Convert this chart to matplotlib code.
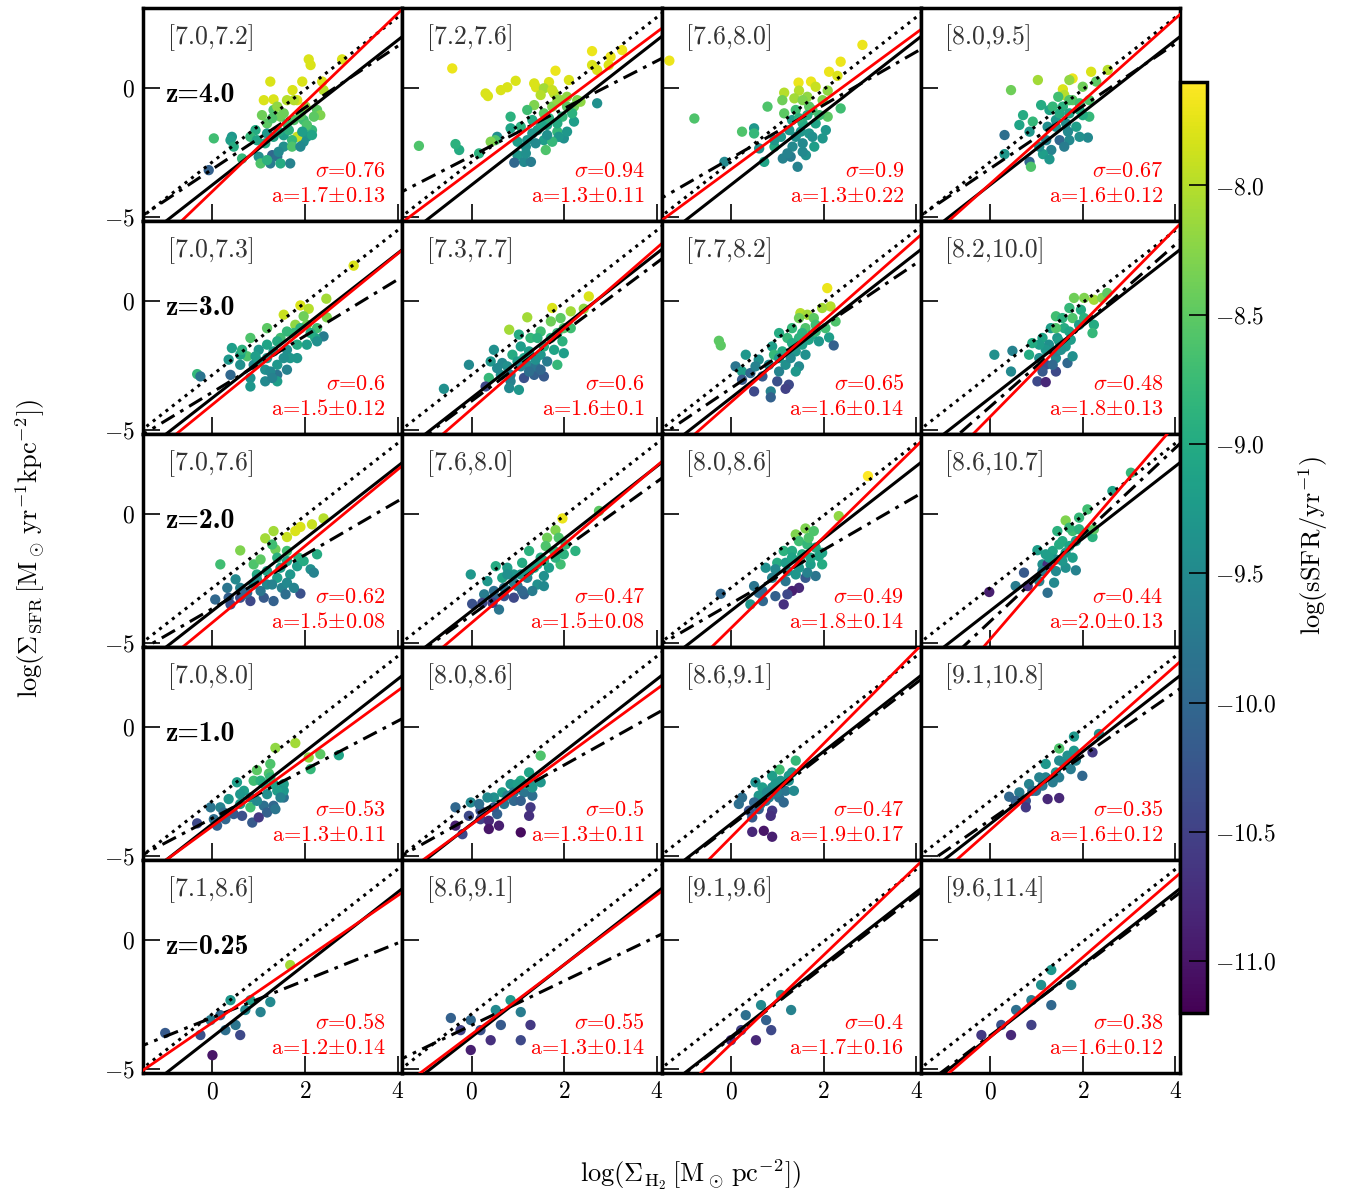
import numpy as np
import matplotlib
matplotlib.use('Agg')
import matplotlib.pyplot as plt
from matplotlib import cm, colors

plt.rcParams.update({
    'font.family': 'serif', 'font.serif': ['cmr10'], 'mathtext.fontset': 'cm',
    'axes.formatter.use_mathtext': True, 'axes.unicode_minus': True,
})

# ---------------- data ----------------
redshifts = ['4.0', '3.0', '2.0', '1.0', '0.25']
bins = [['[7.0,7.2]', '[7.2,7.6]', '[7.6,8.0]', '[8.0,9.5]'],
        ['[7.0,7.3]', '[7.3,7.7]', '[7.7,8.2]', '[8.2,10.0]'],
        ['[7.0,7.6]', '[7.6,8.0]', '[8.0,8.6]', '[8.6,10.7]'],
        ['[7.0,8.0]', '[8.0,8.6]', '[8.6,9.1]', '[9.1,10.8]'],
        ['[7.1,8.6]', '[8.6,9.1]', '[9.1,9.6]', '[9.6,11.4]']]
sigmas = [['0.76', '0.94', '0.9', '0.67'],
          ['0.6', '0.6', '0.65', '0.48'],
          ['0.62', '0.47', '0.49', '0.44'],
          ['0.53', '0.5', '0.47', '0.35'],
          ['0.58', '0.55', '0.4', '0.38']]
slopes_txt = [['1.7', '1.3', '1.3', '1.6'],
              ['1.5', '1.6', '1.6', '1.8'],
              ['1.5', '1.5', '1.8', '2.0'],
              ['1.3', '1.3', '1.9', '1.6'],
              ['1.2', '1.3', '1.7', '1.6']]
slope_err_txt = [['0.13', '0.11', '0.22', '0.12'],
                 ['0.12', '0.1', '0.14', '0.13'],
                 ['0.08', '0.08', '0.14', '0.13'],
                 ['0.11', '0.11', '0.17', '0.12'],
                 ['0.14', '0.14', '0.16', '0.12']]
# red fit lines (slope, intercept)
red_fit = [[(1.72, -4.0), (1.34, -3.19), (1.32, -3.15), (1.6, -3.71)],
           [(1.46, -4.01), (1.56, -4.18), (1.58, -3.92), (1.82, -4.48)],
           [(1.48, -4.2), (1.52, -4.21), (1.76, -4.42), (2.08, -4.85)],
           [(1.31, -3.84), (1.31, -3.77), (1.81, -4.27), (1.59, -3.99)],
           [(1.23, -3.2), (1.35, -3.65), (1.72, -4.03), (1.55, -3.77)]]
# dash-dot lines (slope, intercept)
dd_fit = [[(1.19, -3.14), (0.92, -2.63), (1.03, -2.72), (1.21, -3.12)],
          [(1.09, -3.53), (1.34, -3.87), (1.21, -3.38), (1.57, -4.09)],
          [(1.04, -3.66), (1.29, -3.91), (1.04, -3.47), (1.68, -4.16)],
          [(0.94, -3.53), (1.0, -3.47), (1.38, -3.82), (1.24, -3.6)],
          [(0.72, -3.0), (0.86, -3.3), (1.38, -3.8), (1.35, -3.7)]]
ks_solid = (1.4, -3.75)
ks_dotted = (1.4, -2.86)

# scatter points per panel: x=log Sigma_H2, y=log Sigma_SFR, c=log sSFR
x00 = [2.08,2.12,2.80,1.25,1.94,1.73,2.37,2.40,1.11,1.32,1.61,1.83,2.01,2.26,2.33,1.32,1.47,1.18,1.61,1.76,1.97,2.15,2.04,1.97,1.83,1.72,1.54,1.54,1.72,1.32,1.18,0.93,0.82,0.42,0.39,0.03,0.46,0.64,1.00,1.04,1.29,1.40,1.25,1.47,1.68,1.18,-0.08,1.14,0.96,
       1.40,1.54,1.29,1.90,2.04,1.65,1.43,1.94,2.15,1.76,1.07,1.90,1.43,2.19]
y00 = [1.11,0.89,1.11,0.25,0.25,-0.08,0.25,-0.08,-0.47,-0.44,-0.47,-0.47,-0.72,-0.85,-1.05,-0.85,-1.11,-1.37,-1.37,-1.24,-1.24,-1.63,-1.89,-2.08,-1.89,-2.02,-1.83,-2.27,-2.27,-1.89,-1.76,-1.63,-1.89,-1.89,-2.02,-1.95,-2.27,-2.73,-2.66,-2.92,-2.60,-2.66,-2.92,-2.92,-2.92,-2.79,-3.18,-2.14,-2.02,
       -0.72,-0.98,-1.17,-1.05,-1.43,-1.63,-1.69,-1.69,-1.82,-0.47,-1.05,-2.27,-2.47,-1.11]
c00 = [-7.8,-7.8,-7.8,-7.8,-7.8,-7.8,-7.8,-8.0,-7.8,-7.8,-8.0,-7.8,-8.2,-8.5,-8.3,-8.6,-8.4,-8.5,-8.7,-8.6,-8.7,-8.8,-9.3,-9.4,-7.9,-8.8,-9.2,-9.4,-8.6,-9.1,-9.3,-9.0,-8.8,-9.3,-9.2,-8.7,-9.0,-8.8,-9.4,-8.6,-10.0,-9.9,-9.7,-9.0,-9.6,-8.9,-10.1,-9.0,-9.1,
       -8.2,-8.4,-8.6,-8.5,-8.6,-8.9,-9.0,-9.2,-9.1,-8.0,-8.4,-9.5,-9.5,-8.5]

x01 = [-0.42,0.30,0.35,0.63,0.77,0.95,1.35,1.39,1.67,1.81,2.10,2.60,2.60,2.71,3.00,3.25,2.96,1.56,1.78,1.92,2.06,2.21,2.35,1.74,1.56,1.35,1.20,0.84,0.84,1.06,1.31,1.42,1.63,1.85,1.99,2.21,2.71,2.17,1.88,1.56,1.60,1.74,0.99,1.20,0.55,0.51,0.41,0.16,-0.27,-0.35,-1.14,0.99,1.13,0.92,1.28,1.17,
       1.85,2.06,1.96,1.67,1.49,1.85,1.31,1.63,2.06,1.17,1.38,2.28,1.74,1.49]
y01 = [0.76,-0.21,-0.31,-0.08,0.03,0.28,0.18,0.03,0.23,0.67,0.31,1.43,0.89,0.70,1.21,1.47,0.89,-0.01,-0.21,-0.47,-0.34,-0.72,-0.53,-0.72,-0.98,-0.66,-0.85,-1.11,-1.56,-1.50,-1.24,-1.63,-1.43,-1.69,-1.95,-1.30,-0.59,-0.98,-1.89,-2.02,-2.40,-2.08,-2.08,-2.02,-1.89,-2.02,-2.08,-2.53,-2.40,-2.17,-2.24,-2.60,-2.86,-2.89,-2.86,-2.53,
       -0.47,-0.72,-1.11,-1.17,-1.37,-1.37,-1.76,-1.82,-1.69,-2.27,-2.14,-0.47,-0.08,-0.27]
c01 = [-7.7,-7.8,-7.8,-7.8,-7.8,-7.8,-7.8,-7.8,-7.8,-7.7,-7.8,-7.7,-7.8,-7.8,-7.7,-7.7,-7.8,-8.1,-8.0,-8.1,-8.2,-8.4,-8.2,-8.3,-8.5,-8.3,-8.7,-8.9,-9.1,-8.9,-9.0,-9.2,-9.1,-8.8,-9.4,-9.2,-9.4,-8.9,-9.3,-9.2,-8.6,-8.8,-9.2,-9.3,-9.4,-8.6,-8.3,-8.9,-9.0,-8.9,-8.6,-9.3,-9.5,-10.0,-9.7,-9.4,
       -8.2,-8.5,-8.8,-8.9,-9.1,-9.0,-9.3,-9.4,-9.3,-9.4,-9.5,-8.3,-7.9,-8.0]

x02 = [-1.33,2.84,2.37,2.12,2.30,1.46,1.73,1.83,1.15,1.47,2.09,1.11,1.37,1.65,1.98,0.79,1.15,1.40,1.76,2.09,2.37,1.32,1.55,1.83,2.05,1.69,1.40,1.08,-0.79,0.24,0.50,0.50,0.94,0.61,0.72,-0.14,1.12,1.29,1.33,1.62,1.80,1.44,1.55,
       1.55,1.69,1.91,1.47,1.65,1.26,1.51,1.76,1.98,1.55,1.22,0.94]
y02 = [1.06,1.67,1.02,0.63,0.47,0.21,0.25,0.05,-0.18,-0.10,-0.10,-0.47,-0.40,-0.34,-0.47,-0.72,-0.98,-0.85,-0.85,-1.11,-0.79,-1.24,-1.37,-1.37,-1.63,-1.76,-1.89,-1.89,-1.18,-1.69,-1.56,-1.76,-2.27,-2.34,-2.86,-2.86,-2.73,-2.66,-2.27,-2.60,-2.27,-3.05,-2.14,
       -0.47,-0.72,-1.05,-1.17,-1.05,-1.63,-1.69,-1.89,-1.95,-2.47,-2.53,-2.02]
c02 = [-7.7,-7.7,-7.7,-7.7,-7.8,-7.7,-7.7,-7.9,-8.0,-8.0,-8.2,-8.4,-8.1,-8.2,-8.3,-8.6,-8.5,-8.7,-8.6,-8.5,-8.7,-9.2,-9.0,-9.1,-9.3,-9.3,-9.4,-9.3,-8.6,-8.6,-9.3,-8.8,-9.0,-9.4,-9.1,-9.5,-9.6,-9.7,-9.5,-9.4,-9.2,-9.6,-9.5,
       -8.3,-8.5,-8.7,-8.9,-9.0,-9.3,-9.3,-9.4,-9.3,-9.5,-9.6,-9.3]

x03 = [2.18,2.54,1.78,1.71,1.03,1.57,1.60,0.45,2.00,2.29,1.47,1.78,2.14,1.10,1.28,1.57,1.93,2.14,0.71,0.92,0.63,1.42,1.64,1.86,1.24,0.85,1.50,1.71,2.11,0.31,1.32,1.14,1.28,0.31,0.85,0.88,1.06,
       1.71,1.93,1.50,1.71,2.00,1.42,1.68,1.93,1.21,1.60,1.35]
y03 = [0.63,0.70,0.37,0.31,0.31,-0.05,-0.27,-0.08,0.05,0.25,-0.34,-0.47,-0.47,-0.66,-0.85,-0.72,-0.85,-1.11,-1.05,-1.30,-1.43,-1.24,-1.37,-1.50,-1.50,-1.69,-2.02,-2.02,-1.92,-1.82,-2.40,-2.56,-2.76,-2.56,-2.86,-3.05,-2.27,
       -0.47,-0.59,-0.98,-0.98,-1.05,-1.50,-1.69,-1.89,-2.02,-2.27,-0.72]
c03 = [-7.8,-8.0,-7.7,-8.2,-8.1,-7.8,-8.0,-8.4,-8.4,-8.5,-8.7,-8.5,-8.6,-9.0,-9.1,-8.9,-9.0,-8.8,-9.0,-8.8,-9.1,-9.3,-9.4,-9.2,-9.4,-9.3,-10.0,-9.5,-9.5,-9.9,-9.6,-9.2,-9.3,-9.3,-10.0,-8.6,-9.4,
       -8.6,-8.7,-9.0,-9.1,-9.0,-9.4,-9.5,-9.4,-9.6,-9.7,-8.8]

x10 = [3.05,2.46,1.90,2.08,1.54,1.97,2.47,1.79,2.04,1.18,1.47,1.76,2.26,2.40,2.22,2.04,1.83,1.61,1.40,1.18,0.82,1.00,0.75,0.42,0.35,0.60,0.89,1.14,1.40,1.61,1.40,0.82,1.14,0.82,1.40,0.39,-0.33,-0.26,1.25,1.00,1.68,
       1.61,1.90,2.12,1.32,1.54,1.18,1.29,0.60,0.93,1.83,2.26,0.64]
y10 = [1.37,0.09,-0.17,-0.30,-0.53,-0.59,-0.63,-0.92,-0.92,-1.05,-1.43,-1.24,-1.05,-1.37,-1.43,-1.69,-1.69,-1.89,-1.56,-1.69,-1.43,-1.89,-2.14,-1.82,-2.27,-2.47,-2.47,-2.66,-2.86,-2.66,-2.47,-2.98,-3.11,-3.31,-3.11,-2.86,-2.83,-2.92,-2.73,-2.34,-2.21,
       -1.18,-1.05,-1.24,-1.95,-2.21,-2.21,-2.98,-2.08,-2.14,-2.21,-1.56,-1.89]
c10 = [-7.8,-8.1,-7.8,-8.0,-7.9,-8.4,-8.3,-8.2,-8.4,-8.5,-8.7,-8.8,-8.7,-9.7,-9.1,-9.2,-9.0,-9.4,-9.0,-9.1,-8.6,-9.3,-8.6,-9.2,-9.3,-9.4,-9.5,-9.4,-9.8,-9.6,-9.3,-9.4,-9.5,-9.3,-9.2,-10.0,-8.8,-9.8,-9.5,-9.2,-9.3,
       -8.8,-8.9,-9.0,-9.2,-9.4,-9.3,-9.6,-9.1,-9.2,-9.3,-9.4,-8.9]

x11 = [2.53,1.74,2.14,1.20,2.42,0.81,1.71,1.92,2.14,1.49,1.02,1.27,1.71,1.96,1.78,1.99,1.06,0.48,0.88,1.49,1.63,1.85,1.20,0.99,0.66,-0.06,0.41,0.37,0.63,0.84,1.13,1.35,1.56,0.30,0.81,1.02,-0.60,1.38,1.13,
       1.42,1.56,1.24,1.38,1.06,0.77,0.84,1.24,0.55,1.85,1.99,1.49]
y11 = [0.18,-0.27,-0.40,-0.63,-0.30,-1.11,-0.79,-0.66,-1.05,-1.18,-1.30,-1.43,-1.43,-1.56,-1.89,-2.02,-1.76,-1.89,-2.08,-2.08,-2.34,-2.47,-2.47,-2.34,-2.40,-2.47,-2.34,-2.98,-2.86,-3.11,-2.98,-2.86,-2.92,-3.31,-3.37,-3.44,-3.40,-2.53,-2.21,
       -1.43,-1.76,-1.95,-2.27,-2.53,-2.53,-2.86,-2.73,-2.60,-1.24,-1.05,-2.66]
c11 = [-7.8,-7.8,-8.1,-8.1,-8.2,-8.1,-8.4,-8.5,-8.7,-8.7,-9.0,-8.8,-8.9,-8.9,-9.1,-9.2,-9.2,-9.4,-9.0,-9.3,-9.7,-8.8,-9.5,-9.2,-9.5,-9.5,-9.3,-8.8,-9.4,-9.6,-10.3,-10.1,-10.2,-10.4,-9.5,-9.3,-9.4,-9.8,-9.1,
       -8.9,-9.0,-9.2,-9.4,-9.6,-9.4,-9.7,-9.9,-9.5,-8.8,-8.6,-10.0]

x12 = [2.08,2.15,1.97,1.50,1.65,1.47,1.79,2.26,1.32,1.61,1.83,1.04,1.22,1.47,1.76,2.12,1.90,2.22,-0.26,-0.22,0.89,1.11,1.40,1.61,0.93,0.32,0.60,0.82,1.18,1.47,0.10,0.24,0.42,0.68,0.24,1.00,1.25,0.50,0.86,0.86,1.18,
       1.54,1.68,1.32,1.54,1.83,2.04,1.04,1.29,1.04,0.53,1.40]
y12 = [0.50,-0.21,-0.27,-0.47,-0.53,-0.66,-0.66,-0.79,-1.05,-1.05,-0.92,-1.24,-1.43,-1.43,-1.30,-1.41,-1.56,-1.72,-1.54,-1.72,-1.76,-1.95,-1.95,-2.08,-2.08,-2.08,-2.27,-2.47,-2.47,-2.53,-2.53,-2.73,-2.79,-2.92,-3.05,-3.11,-3.24,-3.50,-3.50,-3.73,-3.40,
       -1.24,-1.50,-1.63,-1.69,-1.18,-1.05,-2.21,-2.21,-2.73,-2.53,-2.73]
c12 = [-7.7,-8.0,-8.1,-8.0,-8.1,-8.4,-8.5,-8.6,-8.8,-8.6,-8.7,-9.0,-8.8,-8.9,-9.0,-9.2,-9.3,-10.1,-8.5,-8.5,-9.2,-9.0,-9.3,-9.4,-8.8,-9.3,-9.4,-9.5,-9.4,-9.5,-9.8,-9.2,-10.0,-10.2,-10.2,-10.3,-10.4,-10.4,-9.6,-10.1,-10.5,
       -8.9,-9.1,-9.0,-9.2,-8.8,-8.7,-9.3,-9.5,-9.6,-9.6,-9.3]

x13 = [1.81,2.03,2.24,2.42,2.53,1.71,1.96,1.42,1.78,2.24,2.21,1.31,1.60,1.92,1.13,1.45,1.74,1.27,1.63,0.84,1.06,1.42,1.67,1.20,1.13,1.42,1.02,1.20,0.09,0.48,0.45,1.42,1.42,
       1.56,1.71,1.49,1.20,1.53,1.06,2.03,1.78,1.35,0.91]
y13 = [0.12,0.12,0.05,0.12,0.31,-0.27,-0.34,-0.59,-0.66,-0.92,-1.24,-1.05,-1.05,-0.92,-1.43,-1.43,-1.50,-1.69,-1.76,-2.08,-2.21,-2.21,-2.40,-2.47,-2.73,-2.73,-3.11,-3.14,-2.08,-1.93,-2.73,-1.05,-1.95,
       -0.66,-1.18,-1.56,-1.89,-1.89,-1.69,-0.66,-2.14,-2.47,-1.63]
c13 = [-8.4,-8.3,-8.1,-8.3,-8.5,-8.8,-9.0,-8.7,-8.6,-9.0,-8.8,-9.2,-9.0,-9.2,-9.1,-9.3,-9.2,-9.4,-9.3,-9.0,-9.4,-9.5,-10.0,-10.3,-10.2,-10.4,-10.4,-10.8,-9.4,-9.6,-9.5,-8.6,-9.6,
       -8.9,-9.1,-9.2,-9.3,-9.4,-9.2,-8.9,-9.4,-10.0,-9.0]

x20 = [2.40,2.15,1.90,1.79,1.61,1.32,1.14,1.36,0.60,0.17,0.89,1.04,2.26,1.86,1.61,2.12,2.19,1.18,1.47,1.68,1.40,0.96,0.50,0.32,0.60,0.89,1.18,1.50,1.90,0.06,0.35,0.60,0.82,1.11,1.32,1.58,0.39,0.75,
       1.40,1.61,1.83,1.97,1.61,1.29,1.04,0.68,1.76,0.96,1.29]
y20 = [-0.17,-0.40,-0.50,-0.66,-0.89,-0.66,-0.94,-1.37,-1.41,-1.95,-1.95,-1.76,-1.56,-1.69,-1.43,-2.14,-2.27,-2.21,-2.08,-2.34,-2.47,-2.34,-2.53,-2.86,-2.86,-2.73,-2.73,-2.86,-3.08,-3.31,-3.24,-3.24,-3.37,-3.24,-3.37,-3.11,-3.50,-3.05,
       -1.69,-1.82,-2.02,-1.82,-2.66,-2.73,-2.98,-3.11,-2.86,-2.53,-1.18]
c20 = [-8.0,-7.9,-7.8,-7.8,-7.9,-8.1,-8.1,-8.4,-8.3,-8.7,-8.6,-8.5,-9.0,-8.9,-8.7,-9.4,-9.6,-9.1,-9.2,-9.3,-9.2,-9.0,-9.5,-9.8,-9.6,-9.4,-9.5,-9.6,-10.3,-10.0,-10.1,-10.3,-10.4,-10.2,-10.1,-9.9,-10.3,-10.0,
       -8.9,-9.1,-9.2,-9.0,-9.5,-9.6,-9.8,-10.0,-9.6,-9.4,-8.7]

x21 = [1.96,1.81,2.75,1.63,1.88,1.60,2.24,2.03,1.24,1.49,1.92,1.81,1.09,1.35,1.67,1.56,0.52,0.66,0.34,0.91,1.20,0.99,1.42,1.56,-0.02,0.27,0.48,0.70,0.91,1.13,0.01,0.23,0.59,0.45,1.31,0.77,
       1.42,1.24,1.56,1.06,0.91,0.70,0.48,1.09,1.78,1.99,0.77]
y21 = [-0.17,-0.62,0.12,-0.92,-0.92,-1.24,-1.43,-1.18,-1.43,-1.69,-1.95,-1.69,-1.89,-2.08,-2.08,-2.40,-2.02,-2.47,-2.60,-2.34,-2.47,-2.79,-2.73,-2.79,-2.34,-3.11,-3.24,-3.18,-3.24,-3.11,-3.48,-3.44,-3.70,-3.44,-2.98,-2.08,
       -1.95,-2.21,-1.82,-2.34,-2.66,-2.86,-2.98,-2.98,-1.43,-1.56,-2.34]
c21 = [-7.7,-8.3,-8.5,-8.4,-8.6,-8.6,-8.9,-8.8,-8.9,-9.0,-8.7,-8.9,-9.0,-9.1,-9.2,-9.4,-9.0,-9.1,-9.3,-9.3,-9.6,-9.8,-9.4,-9.5,-9.3,-9.7,-10.1,-10.3,-10.4,-10.1,-10.3,-10.4,-9.8,-10.5,-9.7,-9.2,
       -9.1,-9.2,-9.0,-9.3,-9.6,-9.8,-9.9,-10.0,-8.8,-8.9,-9.4]

x22 = [2.96,2.33,1.61,1.40,1.79,1.47,1.65,1.14,1.32,1.83,1.90,1.00,1.18,1.47,1.72,1.97,0.75,0.96,1.40,1.61,1.83,1.47,1.32,0.50,0.60,0.68,0.96,1.14,1.22,0.42,0.69,-0.22,1.65,
       1.32,1.54,1.72,1.22,1.47,0.89,1.18,1.68,1.97]
y22 = [1.47,-0.08,-0.56,-0.79,-0.66,-1.05,-1.18,-1.43,-1.43,-1.30,-1.63,-1.89,-1.89,-1.82,-1.95,-1.95,-2.08,-2.14,-2.34,-2.47,-2.40,-2.86,-2.98,-2.79,-3.05,-2.98,-3.18,-3.50,-3.11,-3.50,-3.37,-3.09,-2.27,
       -1.69,-1.56,-1.69,-2.21,-2.08,-2.47,-2.60,-0.92,-1.50]
c22 = [-7.6,-8.2,-8.3,-8.3,-8.6,-8.7,-8.8,-8.9,-9.0,-9.0,-9.1,-9.0,-9.2,-9.1,-9.2,-9.0,-9.4,-9.5,-9.3,-10.2,-9.8,-10.8,-10.9,-9.8,-9.9,-10.0,-10.1,-10.7,-10.4,-9.3,-10.0,-10.0,-9.6,
       -9.1,-9.0,-9.1,-9.4,-9.3,-9.6,-9.8,-8.6,-9.1]

x23 = [3.04,2.64,2.10,1.63,1.92,2.14,1.78,1.45,1.56,1.85,2.21,1.02,1.35,1.63,1.42,1.78,1.13,1.24,1.63,1.85,0.73,0.55,0.81,1.06,1.38,1.24,1.13,-0.02,2.24,
       1.49,1.71,1.27,1.56,1.71,1.42,1.20,1.92]
y23 = [1.60,0.89,0.18,-0.25,-0.14,-0.66,-0.66,-0.66,-1.05,-1.05,-0.89,-1.40,-1.43,-1.50,-1.76,-1.69,-1.95,-1.95,-2.08,-2.18,-2.27,-2.79,-2.79,-2.60,-2.66,-3.05,-2.21,-3.02,-0.59,
       -1.18,-1.24,-1.69,-1.82,-0.53,-2.21,-1.56,-0.59]
c23 = [-8.8,-9.1,-8.7,-8.3,-8.8,-9.0,-8.7,-8.9,-9.0,-9.2,-8.9,-9.2,-9.1,-9.3,-9.4,-9.2,-9.4,-10.7,-9.4,-9.6,-10.2,-9.7,-10.7,-9.6,-9.5,-9.9,-9.7,-10.9,-8.5,
       -9.0,-9.1,-9.2,-9.3,-8.8,-9.5,-9.2,-8.9]

x30 = [1.79,1.36,2.08,2.33,2.73,2.12,0.96,1.25,1.22,0.89,1.04,0.53,1.32,1.54,1.47,0.68,0.82,0.35,0.60,0.82,1.11,1.32,1.18,1.36,1.54,-0.04,0.17,0.03,0.28,0.46,0.64,0.86,1.00,-0.33,0.10,1.54,
       1.11,1.40,1.18,0.96,0.60,0.24,1.25,1.47]
y30 = [-0.62,-0.81,-1.18,-1.05,-1.09,-1.63,-1.67,-1.43,-1.80,-2.08,-2.08,-2.14,-2.21,-2.21,-2.47,-2.47,-2.73,-2.79,-2.98,-3.11,-3.05,-3.05,-3.31,-3.18,-2.73,-3.11,-3.11,-3.57,-3.57,-3.37,-3.44,-3.70,-3.50,-3.73,-3.82,-2.47,
       -2.21,-2.47,-2.60,-2.86,-2.60,-3.31,-1.95,-2.73]
c30 = [-8.1,-8.2,-8.2,-8.5,-9.1,-8.8,-8.5,-8.6,-8.6,-8.7,-8.9,-9.2,-9.1,-9.2,-9.4,-9.2,-9.4,-9.3,-9.2,-8.7,-9.9,-10.0,-10.1,-9.8,-9.9,-9.8,-9.6,-9.9,-10.0,-10.2,-10.3,-10.2,-10.6,-10.4,-10.1,-9.3,
       -9.0,-9.2,-9.4,-9.5,-9.3,-9.9,-8.8,-9.6]

x31 = [1.49,1.24,1.06,1.31,1.49,0.84,0.66,0.48,0.34,0.91,1.13,1.31,0.91,1.27,1.24,1.06,-0.02,-0.35,-0.06,0.19,0.19,0.37,0.59,0.37,-0.20,-0.35,0.70,0.55,
       0.99,1.17,0.77,0.48,0.16,1.06,1.31]
y31 = [-1.11,-1.76,-2.08,-2.08,-2.14,-2.21,-2.53,-2.73,-2.73,-2.53,-2.53,-2.66,-2.86,-3.11,-3.44,-4.08,-2.92,-3.11,-3.44,-3.24,-3.57,-3.63,-3.82,-3.95,-4.15,-3.82,-2.98,-3.37,
       -2.21,-2.21,-2.66,-3.11,-2.98,-2.86,-2.34]
c31 = [-8.6,-9.1,-9.0,-9.2,-9.3,-9.3,-9.2,-9.4,-9.5,-9.7,-9.8,-9.9,-10.0,-10.6,-10.7,-11.1,-9.5,-10.0,-10.4,-10.3,-10.5,-10.8,-10.9,-11.0,-10.4,-10.9,-9.8,-10.1,
       -9.2,-9.2,-9.6,-10.2,-9.9,-10.1,-9.3]

x32 = [1.40,1.05,1.32,0.89,1.07,1.25,0.53,0.68,0.89,1.18,1.36,0.60,0.82,1.04,1.14,0.17,0.39,0.60,0.89,0.86,0.46,0.46,0.71,0.89,0.64,0.24,
       0.96,0.78,0.99,0.50,0.75,1.25]
y32 = [-1.30,-1.65,-1.76,-1.89,-2.08,-2.08,-2.14,-2.34,-2.34,-2.47,-2.47,-2.66,-2.73,-2.73,-2.92,-2.98,-3.24,-3.18,-3.24,-3.44,-3.50,-4.06,-4.02,-4.25,-2.98,-2.73,
       -2.21,-2.53,-2.53,-2.92,-2.86,-1.89]
c32 = [-8.8,-8.7,-9.3,-9.2,-9.3,-9.4,-9.4,-9.2,-9.4,-9.8,-9.5,-9.3,-9.6,-9.9,-10.0,-9.9,-10.3,-10.1,-10.6,-10.7,-10.2,-10.8,-11.0,-10.9,-9.7,-9.9,
       -9.3,-9.5,-9.7,-10.0,-9.8,-9.3]

x33 = [1.81,1.49,2.35,2.21,1.81,1.67,1.49,1.20,1.42,1.74,1.99,1.06,0.84,1.13,1.35,0.63,0.99,0.41,0.77,1.24,1.49,0.77,
       1.20,1.49,1.60,0.91,1.85,0.55]
y33 = [-0.37,-0.83,-0.27,-0.98,-0.92,-1.11,-1.30,-1.43,-1.76,-1.63,-1.89,-1.95,-2.21,-2.27,-2.14,-2.53,-2.47,-2.70,-2.86,-2.79,-2.75,-3.11,
       -1.95,-1.95,-1.43,-2.47,-1.30,-2.86]
c33 = [-9.3,-8.6,-9.4,-10.6,-9.3,-9.4,-9.5,-9.3,-9.4,-9.7,-10.0,-9.6,-9.6,-9.8,-9.7,-9.7,-9.9,-10.0,-10.3,-10.8,-10.8,-10.6,
       -9.6,-9.7,-9.5,-9.9,-9.6,-10.1]

x40 = [1.68,0.39,0.71,1.04,0.50,0.28,-0.26,-0.04,-1.02,0.00,0.82,1.25,0.17,0.60]
y40 = [-0.97,-2.33,-2.71,-2.79,-3.29,-3.49,-3.68,-3.10,-3.60,-4.46,-2.33,-2.40,-2.91,-3.68]
c40 = [-8.1,-9.3,-9.5,-9.6,-9.8,-9.9,-10.3,-9.7,-10.2,-11.0,-9.2,-9.5,-10.0,-10.4]

x41 = [0.84,0.52,1.06,-0.02,0.19,0.63,-0.24,0.41,-0.02,1.27,1.06,-0.45]
y41 = [-2.33,-2.71,-2.79,-3.10,-3.49,-3.29,-3.49,-3.88,-4.26,-3.29,-3.88,-3.02]
c41 = [-9.3,-9.5,-9.7,-10.0,-10.3,-10.2,-10.5,-10.7,-10.9,-10.6,-10.4,-10.1]

x42 = [1.08,0.65,0.32,0.76,0.22,0.54,0.00,1.30,0.87]
y42 = [-2.13,-2.52,-2.91,-3.10,-3.49,-3.88,-3.88,-2.71,-3.49]
c42 = [-9.4,-9.5,-9.9,-10.1,-10.5,-10.8,-10.7,-9.6,-10.4]

x43 = [1.32,1.10,1.75,0.89,0.56,1.32,0.24,0.45,0.89,-0.19]
y43 = [-1.16,-1.74,-1.74,-2.33,-2.71,-2.52,-3.29,-3.68,-3.29,-3.68]
c43 = [-9.3,-9.4,-9.6,-9.7,-9.9,-10.0,-10.3,-10.8,-10.5,-10.6]

panel_x = [[x00, x01, x02, x03], [x10, x11, x12, x13], [x20, x21, x22, x23], [x30, x31, x32, x33], [x40, x41, x42, x43]]
panel_y = [[y00, y01, y02, y03], [y10, y11, y12, y13], [y20, y21, y22, y23], [y30, y31, y32, y33], [y40, y41, y42, y43]]
panel_c = [[c00, c01, c02, c03], [c10, c11, c12, c13], [c20, c21, c22, c23], [c30, c31, c32, c33], [c40, c41, c42, c43]]

# ---------------- plot ----------------
W, H = 1347, 1198
fig = plt.figure(figsize=(W / 100, H / 100), dpi=100)
left, right, top, bottom = 143 / W, 1180 / W, 1 - 8 / H, 1 - 1073 / H
gs = fig.add_gridspec(5, 4, left=left, right=right, top=top, bottom=bottom, hspace=0, wspace=0)
norm = colors.Normalize(vmin=-11.2, vmax=-7.6)
cmap = plt.get_cmap('viridis')
xx = np.array([-1.7, 4.3])

for r in range(5):
    for c in range(4):
        ax = fig.add_subplot(gs[r, c])
        px, py, pc = panel_x[r][c], panel_y[r][c], panel_c[r][c]
        n = min(len(px), len(py), len(pc))
        ax.scatter(px[:n], py[:n], c=pc[:n], cmap=cmap, norm=norm, s=55,
                   edgecolors='none', zorder=2)
        ax.plot(xx, ks_dotted[0] * xx + ks_dotted[1], color='k', ls=':', lw=2.2, zorder=3)
        ax.plot(xx, ks_solid[0] * xx + ks_solid[1], color='k', ls='-', lw=2.2, zorder=3)
        sd, bd = dd_fit[r][c]
        ax.plot(xx, sd * xx + bd, color='k', lw=2.2, dashes=[5, 2.2, 1.2, 2.2], zorder=3)
        sr, br = red_fit[r][c]
        ax.plot(xx, sr * xx + br, color='red', lw=2.0, zorder=4)

        ax.set_xlim(-1.5, 4.1)
        ax.set_ylim(-5.15, 3.1)
        ax.set_xticks([0, 2, 4])
        ax.set_yticks([-5, 0])
        ax.tick_params(direction='in', length=12, width=1.2, labelsize=17, pad=6,
                       labelleft=(c == 0), labelbottom=(r == 4))
        for sp in ax.spines.values():
            sp.set_linewidth(2.5)

        ax.text(0.095, 0.86, bins[r][c], transform=ax.transAxes, fontsize=18.5,
                color='0.2', ha='left', va='center')
        if c == 0:
            ax.text(0.085, 0.59, 'z=' + redshifts[r], transform=ax.transAxes,
                    fontsize=20, fontname='cmb10', ha='left', va='center')
        ax.text(0.935, 0.235, r'$\sigma$=' + sigmas[r][c], transform=ax.transAxes,
                fontsize=16, color='red', ha='right', va='center')
        ax.text(0.935, 0.117, 'a=' + slopes_txt[r][c] + r'$\pm$' + slope_err_txt[r][c],
                transform=ax.transAxes, fontsize=16, color='red', ha='right', va='center')

cax = fig.add_axes([1180 / W, 1 - 1013 / H, 27 / W, 931 / H])
sm = cm.ScalarMappable(norm=norm, cmap=cmap)
cb = fig.colorbar(sm, cax=cax)
cticks = [-8.0, -8.5, -9.0, -9.5, -10.0, -10.5, -11.0]
cb.set_ticks(cticks)
cb.set_ticklabels(['$%.1f$' % t for t in cticks])
cax.tick_params(direction='in', length=13, width=1.2, labelsize=17, pad=6)
cb.outline.set_linewidth(2.5)

fig.text(1313 / W, 1 - 545 / H, r'$\log(\mathrm{sSFR/yr^{-1}})$', rotation=90,
         fontsize=19, ha='center', va='center')
fig.text(30 / W, 1 - 548 / H, r'$\log(\Sigma_{\rm SFR}\,[\mathrm{M_\odot\,yr^{-1}kpc^{-2}}])$',
         rotation=90, fontsize=19, ha='center', va='center')
fig.text(690 / W, 1 - 1175 / H, r'$\log(\Sigma_{\rm H_2}\,[\mathrm{M_\odot\,pc^{-2}}])$',
         fontsize=19, ha='center', va='center')

fig.savefig('out.png', dpi=100)
